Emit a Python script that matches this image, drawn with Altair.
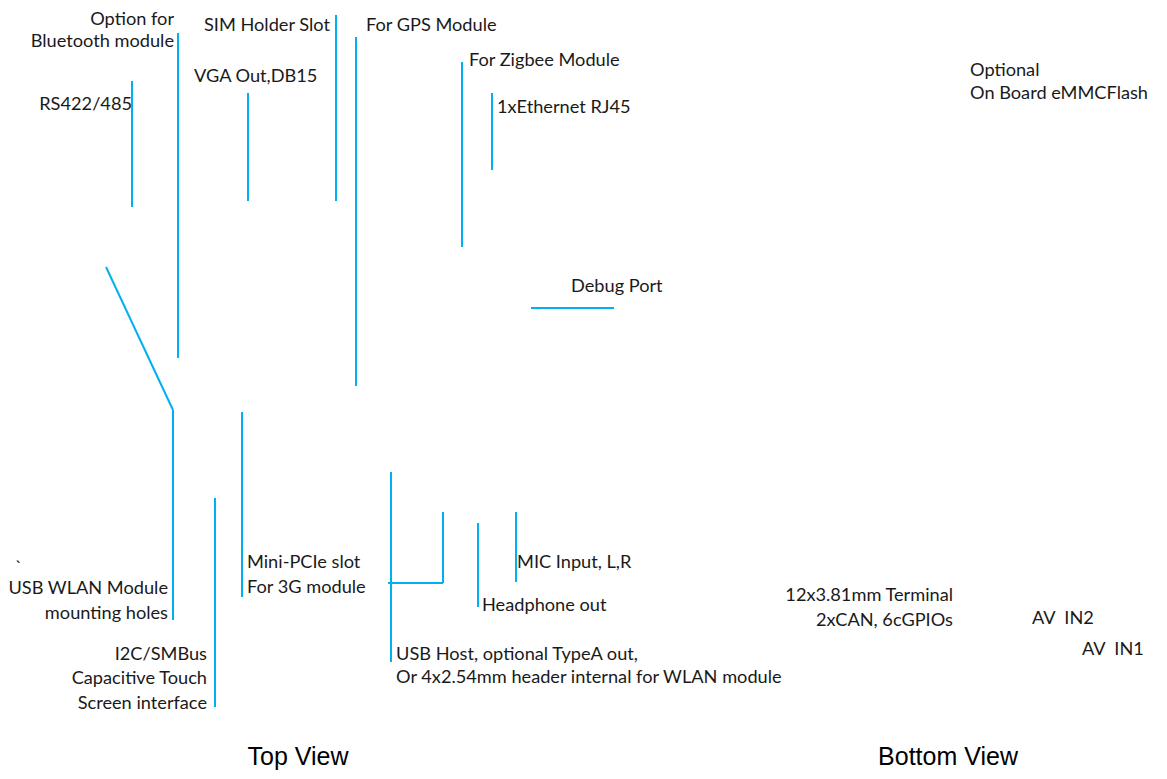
import altair as alt
import pandas as pd

# Leader line segments (pixel positions in the picture)
seg_x1 = [132, 178, 248, 336, 356, 462, 492, 531, 106, 173, 242, 215, 391, 388, 443, 478, 516]
seg_y1 = [81, 33, 93, 15, 37, 62, 93, 308, 267, 410, 412, 498, 472, 583, 512, 523, 512]
seg_x2 = [132, 178, 248, 336, 356, 462, 492, 614, 173, 173, 242, 215, 391, 443, 443, 478, 516]
seg_y2 = [207, 358, 201, 201, 386, 247, 170, 308, 410, 620, 597, 707, 662, 583, 583, 607, 582]

# Labels anchored at their right end
right_text = ["Option for", "Bluetooth module", "RS422/485", "SIM Holder Slot",
              "USB WLAN Module", "mounting holes", "I2C/SMBus", "Capacitive Touch",
              "Screen interface", "12x3.81mm Terminal", "2xCAN, 6cGPIOs"]
right_x = [174, 174, 132, 330, 168, 168, 207, 207, 207, 953, 953]
right_y = [20, 42, 105, 26, 589, 614, 655, 679, 704, 596, 621]

# Labels anchored at their left end
left_text = ["VGA Out,DB15", "For GPS Module", "For Zigbee Module", "1xEthernet RJ45",
             "Debug Port", "Optional", "On Board eMMCFlash", "`", "Mini-PCIe slot",
             "For 3G module", "MIC Input, L,R", "Headphone out",
             "USB Host, optional TypeA out,", "Or 4x2.54mm header internal for WLAN module",
             "AV\u00a0\u00a0IN2", "AV\u00a0\u00a0IN1"]
left_x = [194, 366, 469, 497, 571, 970, 970, 15, 247, 247, 517, 482, 396, 396, 1032, 1082]
left_y = [77, 26, 61, 108, 287, 71, 94, 568, 563, 588, 563, 606, 655, 678, 619, 650]

# View titles (baseline positions)
title_text = ["Top View", "Bottom View"]
title_x = [298, 948]
title_y = [765, 765]

segs = pd.DataFrame({"x1": seg_x1, "y1": seg_y1, "x2": seg_x2, "y2": seg_y2})
rdf = pd.DataFrame({"x": right_x, "y": right_y, "t": right_text})
ldf = pd.DataFrame({"x": left_x, "y": left_y, "t": left_text})
tdf = pd.DataFrame({"x": title_x, "y": title_y, "t": title_text})

W, H = 1151, 763
xs = alt.Scale(domain=[8, 8 + W], nice=False, zero=False)
ys = alt.Scale(domain=[8, 8 + H], nice=False, zero=False, reverse=True)

lines = alt.Chart(segs).mark_rule(color="#00B0F0", strokeWidth=2).encode(
    x=alt.X("x1:Q", scale=xs, axis=None),
    y=alt.Y("y1:Q", scale=ys, axis=None),
    x2="x2:Q", y2="y2:Q",
)

font = "Lato"
fs = 18.2
rtext = alt.Chart(rdf).mark_text(align="right", baseline="middle", font=font,
                                 fontSize=fs, color="#1a1a1a").encode(
    x=alt.X("x:Q", scale=xs, axis=None), y=alt.Y("y:Q", scale=ys, axis=None), text="t:N")
ltext = alt.Chart(ldf).mark_text(align="left", baseline="middle", font=font,
                                 fontSize=fs, color="#1a1a1a").encode(
    x=alt.X("x:Q", scale=xs, axis=None), y=alt.Y("y:Q", scale=ys, axis=None), text="t:N")
ttext = alt.Chart(tdf).mark_text(align="center", baseline="alphabetic", font="Liberation Sans",
                                 fontSize=25, color="#000000").encode(
    x=alt.X("x:Q", scale=xs, axis=None), y=alt.Y("y:Q", scale=ys, axis=None), text="t:N")

chart = alt.layer(lines, rtext, ltext, ttext).properties(
    width=W, height=H, padding=0, autosize=alt.AutoSizeParams(type="none")
).configure_view(stroke=None)

chart.save("out.html", embed_options={"renderer": "svg", "actions": False})
